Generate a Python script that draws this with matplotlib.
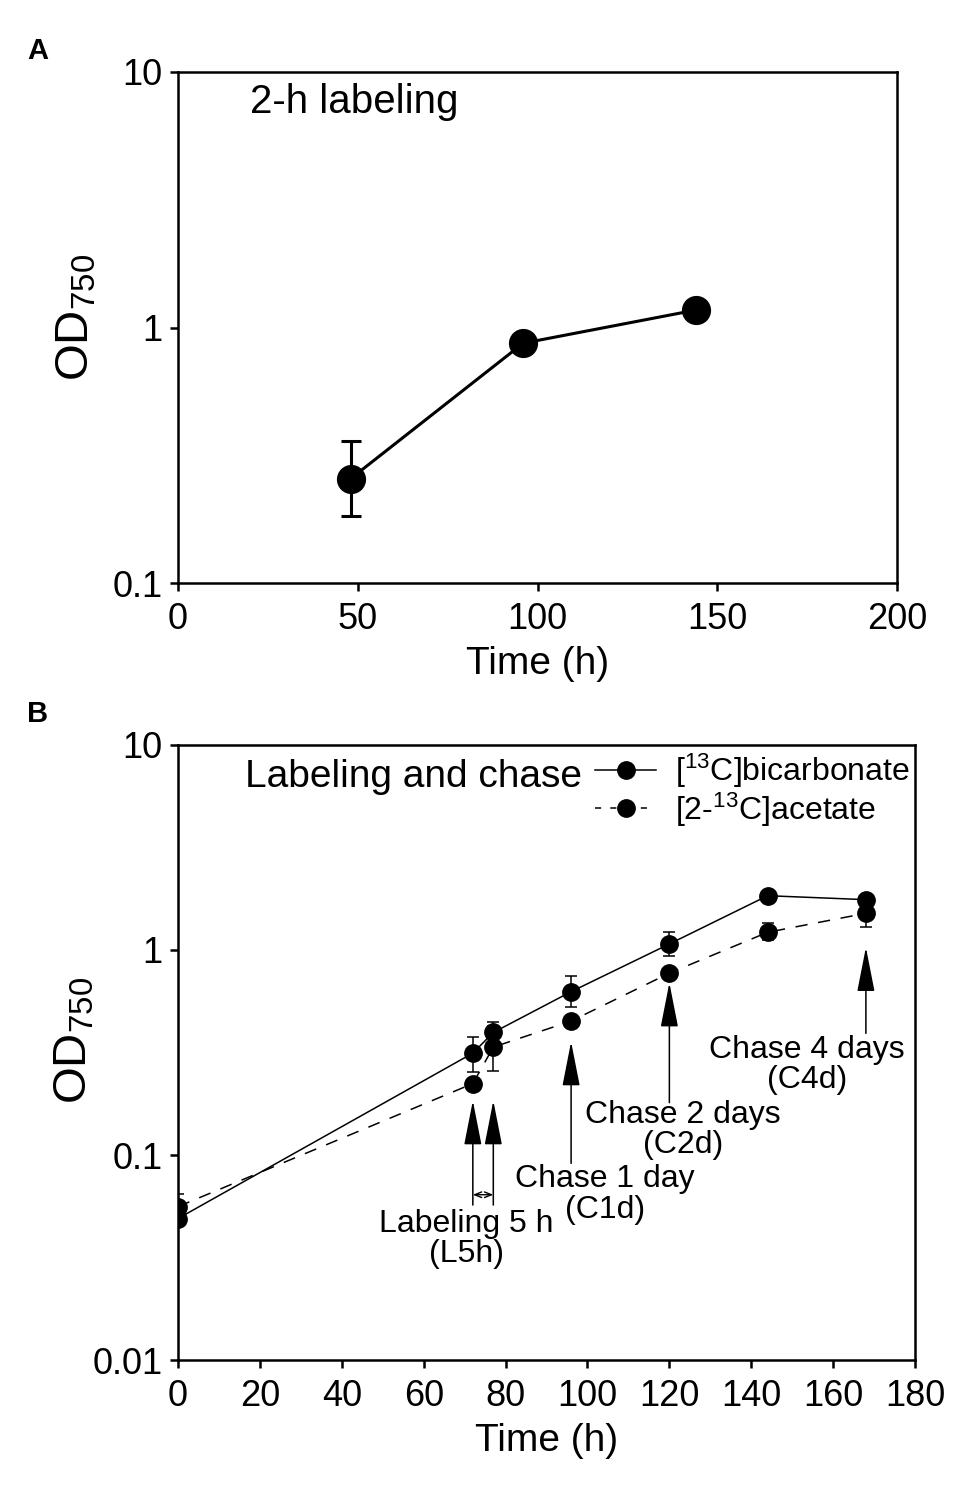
import matplotlib
matplotlib.use("Agg")
import matplotlib.pyplot as plt
from matplotlib.lines import Line2D
import numpy as np

plt.rcParams['font.family'] = ['Liberation Sans', 'DejaVu Sans']
plt.rcParams['mathtext.fontset'] = 'custom'
plt.rcParams['mathtext.rm'] = 'Liberation Sans'
plt.rcParams['mathtext.it'] = 'Liberation Sans'
plt.rcParams['mathtext.bf'] = 'Liberation Sans:bold'

# Panel A: 2-h labeling
time_a = [48, 96, 144]
od_a = [0.256, 0.868, 1.17]
err_a_low = [0.073, 0, 0]
err_a_high = [0.104, 0, 0]

# Panel B: labeling and chase
time_b = [0, 72, 77, 96, 120, 144, 168]
od_bicarb = [0.049, 0.314, 0.396, 0.626, 1.07, 1.84, 1.76]
err_bicarb_low = [0, 0.06, 0, 0.10, 0.13, 0, 0]
err_bicarb_high = [0, 0.064, 0.05, 0.117, 0.15, 0, 0]
od_acetate = [0.056, 0.223, 0.336, 0.45, 0.771, 1.22, 1.51]
err_acetate_low = [0, 0, 0.079, 0, 0, 0.095, 0.22]
err_acetate_high = [0.0085, 0, 0.09, 0, 0, 0.13, 0]

# arrows: x, tail y, tip y
arrow_x = [72, 77, 96, 120, 168]
arrow_tail = [0.057, 0.057, 0.091, 0.18, 0.392]
arrow_tip = [0.184, 0.184, 0.357, 0.692, 1.03]

# annotation labels
label_x = [70.4, 70.4, 104.2, 104.2, 123.3, 123.3, 153.6, 153.6]
label_y = [0.046, 0.033, 0.076, 0.054, 0.156, 0.112, 0.325, 0.231]
label_text = ["Labeling 5 h", "(L5h)", "Chase 1 day", "(C1d)",
              "Chase 2 days", "(C2d)", "Chase 4 days", "(C4d)"]


def style_axes(ax):
    ax.set_yscale('log')
    for sp in ax.spines.values():
        sp.set_linewidth(1.8)
    ax.tick_params(axis='both', which='major', direction='out', length=6,
                   width=1.8, labelsize=26, top=False, right=False)
    ax.tick_params(axis='x', pad=8)
    ax.tick_params(axis='y', pad=5)
    ax.yaxis.set_minor_locator(matplotlib.ticker.NullLocator())


fig = plt.figure(figsize=(9.75, 14.87), dpi=100)

# ---- Panel A ----
ax_a = fig.add_axes([0.1826, 0.6079, 0.9200 - 0.1826, 0.9516 - 0.6079])
style_axes(ax_a)
ax_a.errorbar(time_a, od_a, yerr=[err_a_low, err_a_high], color='black',
              marker='o', markersize=20, linewidth=2.2, elinewidth=2.2,
              capsize=7, capthick=2.2)
ax_a.set_xlim(0, 200)
ax_a.set_ylim(0.1, 10)
ax_a.set_xticks([0, 50, 100, 150, 200])
ax_a.set_yticks([0.1, 1, 10])
ax_a.set_yticklabels(["0.1", "1", "10"])
ax_a.set_xlabel("Time (h)", fontsize=28, labelpad=6)
ax_a.set_ylabel("OD$_{750}$", fontsize=34)
ax_a.yaxis.set_label_coords(-0.11, 0.52)
ax_a.text(20, 7.6, "2-h labeling", fontsize=29, va='center', ha='left')
fig.text(0.028, 0.966, "A", fontsize=21, fontweight='bold', va='center')

# ---- Panel B ----
ax_b = fig.add_axes([0.1826, 0.0854, 0.9385 - 0.1826, 0.4990 - 0.0854])
style_axes(ax_b)
ax_b.errorbar(time_b, od_bicarb, yerr=[err_bicarb_low, err_bicarb_high],
              color='black', marker='o', markersize=12.5, linewidth=1.1,
              elinewidth=1.1, capsize=4.5, capthick=1.1)
ax_b.errorbar(time_b, od_acetate, yerr=[err_acetate_low, err_acetate_high],
              color='black', marker='o', markersize=12.5, linewidth=1.1,
              linestyle=(0, (8, 7)), elinewidth=1.1, capsize=4.5,
              capthick=1.1)
ax_b.set_xlim(0, 180)
ax_b.set_ylim(0.01, 10)
ax_b.set_xticks(np.arange(0, 181, 20))
ax_b.set_yticks([0.01, 0.1, 1, 10])
ax_b.set_yticklabels(["0.01", "0.1", "1", "10"])
ax_b.set_xlabel("Time (h)", fontsize=28, labelpad=6)
ax_b.set_ylabel("OD$_{750}$", fontsize=34)
ax_b.yaxis.set_label_coords(-0.11, 0.52)
ax_b.text(16.4, 7.0, "Labeling and chase", fontsize=28, va='center',
          ha='left')
fig.text(0.028, 0.520, "B", fontsize=21, fontweight='bold', va='center')

handles = [Line2D([], [], color='black', marker='o', markersize=12.5,
                  linewidth=1.1),
           Line2D([], [], color='black', marker='o', markersize=12.5,
                  linewidth=1.1, linestyle=(0, (4, 6)))]
ax_b.legend(handles, ["[$^{13}$C]bicarbonate", "[2-$^{13}$C]acetate"],
            loc='upper left', bbox_to_anchor=(0.536, 1.025),
            frameon=False, fontsize=23, handlelength=1.9,
            handletextpad=0.6, labelspacing=0.0, borderpad=0.2)

for x, t0, t1 in zip(arrow_x, arrow_tail, arrow_tip):
    ax_b.annotate("", xy=(x, t1), xytext=(x, t0),
                  arrowprops=dict(arrowstyle='-|>,head_length=2.8,head_width=0.55',
                                  color='black', lw=1.1, shrinkA=0, shrinkB=0,
                                  mutation_scale=10))
ax_b.annotate("", xy=(72, 0.064), xytext=(77, 0.064),
              arrowprops=dict(arrowstyle='<->,head_length=0.5,head_width=0.2',
                              color='black', lw=1.0, shrinkA=0, shrinkB=0,
                              mutation_scale=10))

for x, y, s in zip(label_x, label_y, label_text):
    ax_b.text(x, y, s, fontsize=23, ha='center', va='center')

fig.savefig("out.png", dpi=100)
